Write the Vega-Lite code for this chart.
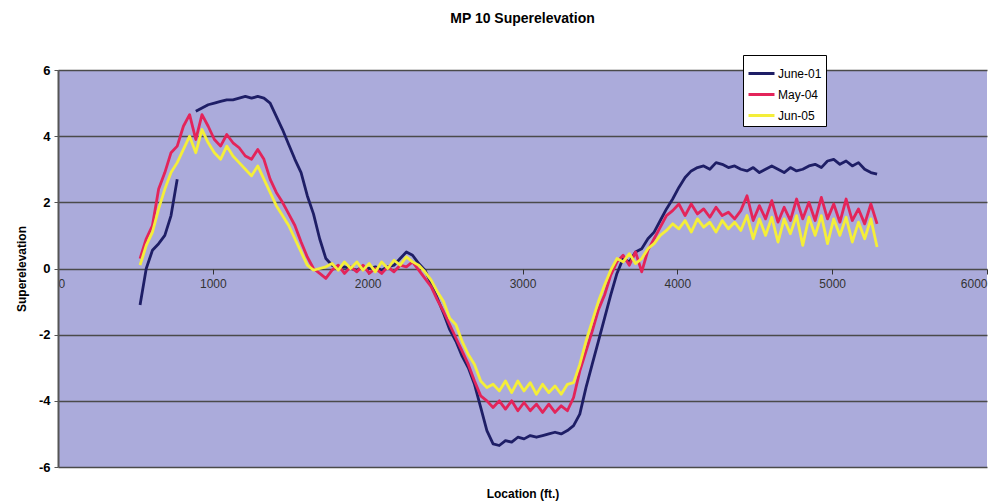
{
  "$schema": "https://vega.github.io/schema/vega-lite/v6.json",
  "width": 929,
  "height": 397,
  "autosize": {"type": "none"},
  "padding": {"left": 58, "top": 70, "right": 20, "bottom": 37},
  "background": "white",
  "config": {
    "font": "Liberation Sans",
    "view": {"stroke": null, "fill": "#ABABDB"}
  },
  "title": {
    "text": "MP 10 Superelevation",
    "font": "Liberation Sans",
    "fontSize": 14,
    "fontWeight": "bold",
    "color": "#000000",
    "anchor": "middle",
    "offset": 29
  },
  "data": {
    "values": [
      {"x":530,"a":-1.1,"b":0.3,"c":0.1},
      {"x":570,"a":0.0,"b":0.9,"c":0.7},
      {"x":610,"a":0.55,"b":1.3,"c":1.1},
      {"x":650,"a":0.75,"b":2.4,"c":1.8},
      {"x":690,"a":1.0,"b":2.9,"c":2.4},
      {"x":730,"a":1.6,"b":3.5,"c":2.9},
      {"x":770,"a":2.7,"b":3.7,"c":3.2},
      {"x":810,"a":null,"b":4.3,"c":3.6},
      {"x":850,"a":null,"b":4.65,"c":4.0},
      {"x":890,"a":4.75,"b":3.9,"c":3.5},
      {"x":930,"a":4.85,"b":4.65,"c":4.2},
      {"x":970,"a":4.95,"b":4.3,"c":3.8},
      {"x":1010,"a":5.0,"b":3.9,"c":3.5},
      {"x":1050,"a":5.05,"b":3.7,"c":3.3},
      {"x":1090,"a":5.1,"b":4.05,"c":3.7},
      {"x":1130,"a":5.1,"b":3.8,"c":3.4},
      {"x":1170,"a":5.15,"b":3.65,"c":3.2},
      {"x":1210,"a":5.2,"b":3.4,"c":3.0},
      {"x":1250,"a":5.15,"b":3.3,"c":2.8},
      {"x":1290,"a":5.2,"b":3.6,"c":3.1},
      {"x":1330,"a":5.15,"b":3.3,"c":2.7},
      {"x":1370,"a":5.0,"b":2.7,"c":2.3},
      {"x":1410,"a":4.6,"b":2.3,"c":1.9},
      {"x":1450,"a":4.2,"b":2.0,"c":1.6},
      {"x":1490,"a":3.75,"b":1.65,"c":1.3},
      {"x":1530,"a":3.3,"b":1.3,"c":0.9},
      {"x":1570,"a":2.9,"b":0.8,"c":0.5},
      {"x":1610,"a":2.2,"b":0.35,"c":0.1},
      {"x":1650,"a":1.65,"b":0.0,"c":-0.05},
      {"x":1690,"a":0.9,"b":-0.15,"c":0.0},
      {"x":1730,"a":0.3,"b":-0.3,"c":0.05},
      {"x":1770,"a":0.1,"b":-0.05,"c":0.15},
      {"x":1810,"a":0.0,"b":0.1,"c":-0.05},
      {"x":1850,"a":0.05,"b":-0.15,"c":0.2},
      {"x":1890,"a":0.0,"b":0.05,"c":0.0},
      {"x":1930,"a":-0.05,"b":-0.1,"c":0.2},
      {"x":1970,"a":0.05,"b":0.1,"c":-0.05},
      {"x":2010,"a":0.0,"b":-0.15,"c":0.15},
      {"x":2050,"a":0.05,"b":0.0,"c":-0.1},
      {"x":2090,"a":-0.05,"b":-0.15,"c":0.2},
      {"x":2130,"a":0.05,"b":0.05,"c":0.0},
      {"x":2170,"a":0.1,"b":-0.1,"c":0.25},
      {"x":2210,"a":0.3,"b":0.1,"c":0.1},
      {"x":2250,"a":0.5,"b":0.05,"c":0.35},
      {"x":2290,"a":0.4,"b":0.2,"c":0.2},
      {"x":2330,"a":0.15,"b":-0.05,"c":0.1},
      {"x":2370,"a":-0.05,"b":-0.3,"c":-0.1},
      {"x":2410,"a":-0.45,"b":-0.55,"c":-0.35},
      {"x":2450,"a":-0.9,"b":-0.95,"c":-0.7},
      {"x":2490,"a":-1.35,"b":-1.3,"c":-1.0},
      {"x":2530,"a":-1.85,"b":-1.7,"c":-1.5},
      {"x":2570,"a":-2.2,"b":-2.1,"c":-1.7},
      {"x":2610,"a":-2.65,"b":-2.5,"c":-2.2},
      {"x":2650,"a":-3.0,"b":-2.9,"c":-2.6},
      {"x":2690,"a":-3.5,"b":-3.4,"c":-2.9},
      {"x":2730,"a":-4.2,"b":-3.85,"c":-3.4},
      {"x":2770,"a":-4.9,"b":-4.0,"c":-3.6},
      {"x":2810,"a":-5.3,"b":-4.2,"c":-3.5},
      {"x":2850,"a":-5.35,"b":-4.0,"c":-3.7},
      {"x":2890,"a":-5.2,"b":-4.25,"c":-3.4},
      {"x":2930,"a":-5.25,"b":-4.0,"c":-3.75},
      {"x":2970,"a":-5.1,"b":-4.3,"c":-3.4},
      {"x":3010,"a":-5.15,"b":-4.05,"c":-3.7},
      {"x":3050,"a":-5.05,"b":-4.3,"c":-3.45},
      {"x":3090,"a":-5.1,"b":-4.1,"c":-3.8},
      {"x":3130,"a":-5.05,"b":-4.35,"c":-3.5},
      {"x":3170,"a":-5.0,"b":-4.1,"c":-3.75},
      {"x":3210,"a":-4.95,"b":-4.35,"c":-3.55},
      {"x":3250,"a":-5.0,"b":-4.15,"c":-3.8},
      {"x":3290,"a":-4.9,"b":-4.3,"c":-3.5},
      {"x":3330,"a":-4.75,"b":-3.9,"c":-3.45},
      {"x":3370,"a":-4.4,"b":-3.1,"c":-2.9},
      {"x":3410,"a":-3.6,"b":-2.5,"c":-2.2},
      {"x":3450,"a":-2.9,"b":-1.9,"c":-1.6},
      {"x":3490,"a":-2.2,"b":-1.25,"c":-1.0},
      {"x":3530,"a":-1.5,"b":-0.8,"c":-0.5},
      {"x":3570,"a":-0.8,"b":-0.2,"c":-0.05},
      {"x":3610,"a":-0.15,"b":0.2,"c":0.3},
      {"x":3650,"a":0.3,"b":0.4,"c":0.2},
      {"x":3690,"a":0.2,"b":0.1,"c":0.45},
      {"x":3730,"a":0.5,"b":0.5,"c":0.15},
      {"x":3770,"a":0.6,"b":-0.1,"c":0.3},
      {"x":3810,"a":0.9,"b":0.55,"c":0.6},
      {"x":3850,"a":1.1,"b":0.9,"c":0.75},
      {"x":3890,"a":1.45,"b":1.25,"c":1.0},
      {"x":3930,"a":1.8,"b":1.6,"c":1.15},
      {"x":3970,"a":2.1,"b":1.75,"c":1.35},
      {"x":4010,"a":2.45,"b":1.95,"c":1.2},
      {"x":4050,"a":2.75,"b":1.6,"c":1.45},
      {"x":4090,"a":2.95,"b":1.95,"c":1.1},
      {"x":4130,"a":3.05,"b":1.65,"c":1.5},
      {"x":4170,"a":3.1,"b":1.8,"c":1.25},
      {"x":4210,"a":3.0,"b":1.55,"c":1.4},
      {"x":4250,"a":3.2,"b":1.85,"c":1.1},
      {"x":4290,"a":3.15,"b":1.6,"c":1.45},
      {"x":4330,"a":3.05,"b":1.7,"c":1.2},
      {"x":4370,"a":3.1,"b":1.5,"c":1.4},
      {"x":4410,"a":3.0,"b":1.75,"c":1.15},
      {"x":4450,"a":2.95,"b":2.2,"c":1.6},
      {"x":4490,"a":3.05,"b":1.45,"c":0.9},
      {"x":4530,"a":2.9,"b":1.9,"c":1.5},
      {"x":4570,"a":3.0,"b":1.5,"c":1.0},
      {"x":4610,"a":3.1,"b":2.05,"c":1.55},
      {"x":4650,"a":3.0,"b":1.4,"c":0.8},
      {"x":4690,"a":2.9,"b":1.85,"c":1.5},
      {"x":4730,"a":3.05,"b":1.45,"c":1.05},
      {"x":4770,"a":2.95,"b":2.1,"c":1.6},
      {"x":4810,"a":3.0,"b":1.5,"c":0.7},
      {"x":4850,"a":3.1,"b":2.0,"c":1.55},
      {"x":4890,"a":3.15,"b":1.45,"c":1.0},
      {"x":4930,"a":3.05,"b":2.15,"c":1.6},
      {"x":4970,"a":3.25,"b":1.5,"c":0.75},
      {"x":5010,"a":3.3,"b":1.95,"c":1.5},
      {"x":5050,"a":3.15,"b":1.4,"c":1.0},
      {"x":5090,"a":3.25,"b":2.1,"c":1.55},
      {"x":5130,"a":3.1,"b":1.45,"c":0.8},
      {"x":5170,"a":3.2,"b":1.8,"c":1.4},
      {"x":5210,"a":3.0,"b":1.35,"c":0.9},
      {"x":5250,"a":2.9,"b":1.95,"c":1.5},
      {"x":5290,"a":2.85,"b":1.35,"c":0.65}
    ]
  },
  "transform": [
    {"fold": ["a", "b", "c"], "as": ["key", "y"]},
    {"lookup": "key", "from": {"data": {"values": [
      {"key": "a", "series": "June-01"},
      {"key": "b", "series": "May-04"},
      {"key": "c", "series": "Jun-05"}
    ]}, "key": "key", "fields": ["series"]}}
  ],
  "mark": {"type": "line", "strokeWidth": 2.8, "invalid": "break-paths-show-domains", "strokeJoin": "round"},
  "encoding": {
    "x": {
      "field": "x",
      "type": "quantitative",
      "scale": {"domain": [0, 6000], "nice": false},
      "axis": {
        "values": [0, 1000, 2000, 3000, 4000, 5000, 6000],
        "labelExpr": "'' + datum.value",
        "offset": -198,
        "grid": false,
        "domain": false,
        "ticks": true,
        "tickSize": 5,
        "tickColor": "#333333",
        "labelFont": "Liberation Sans",
        "labelFontSize": 12,
        "labelColor": "#333333",
        "labelPadding": 4,
        "title": "Location (ft.)",
        "titleFont": "Liberation Sans",
        "titleFontSize": 12,
        "titleFontWeight": "bold",
        "titleColor": "#000000",
        "titleY": 224,
        "titleBaseline": "middle"
      }
    },
    "y": {
      "field": "y",
      "type": "quantitative",
      "scale": {"domain": [-6, 6], "nice": false},
      "axis": {
        "values": [-6, -4, -2, 0, 2, 4, 6],
        "labelExpr": "'' + datum.value",
        "grid": true,
        "gridColor": "#4A4A4A",
        "gridWidth": 1.5,
        "gridOpacity": 1,
        "domain": true,
        "domainColor": "#555555",
        "domainWidth": 2,
        "ticks": true,
        "tickSize": 4,
        "tickColor": "#555555",
        "labelFont": "Liberation Sans",
        "labelFontSize": 13,
        "labelFontWeight": "bold",
        "labelColor": "#000000",
        "labelPadding": 4,
        "title": "Superelevation",
        "titleFont": "Liberation Sans",
        "titleFontSize": 12,
        "titleFontWeight": "bold",
        "titleColor": "#000000",
        "titlePadding": 10
      }
    },
    "color": {
      "field": "series",
      "type": "nominal",
      "scale": {
        "domain": ["June-01", "May-04", "Jun-05"],
        "range": ["#1E1E66", "#E3245A", "#F4EE3A"]
      },
      "legend": {
        "title": null,
        "orient": "none",
        "legendX": 685,
        "legendY": -15,
        "fillColor": "#FFFFFF",
        "strokeColor": "#000000",
        "padding": 4,
        "symbolType": "stroke",
        "symbolSize": 676,
        "symbolStrokeWidth": 3,
        "rowPadding": 0,
        "labelFont": "Liberation Sans",
        "labelFontSize": 12,
        "labelColor": "#000000",
        "labelOffset": 2
      }
    }
  }
}
